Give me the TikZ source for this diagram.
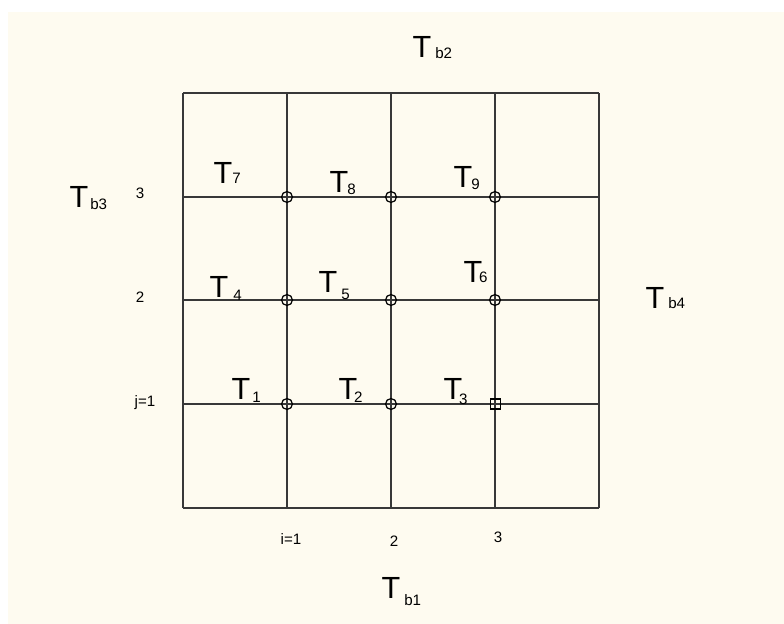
\documentclass[tikz,border=0pt]{standalone}
\usepackage{fontspec}
\setmainfont{Liberation Sans}
\usepackage{tikz}
\definecolor{bgcream}{RGB}{254,251,240}
\definecolor{gridgray}{RGB}{56,56,56}
% T with a subscript: kern, raise, subscript
\newcommand{\Tlab}[3]{T\kern#1\raisebox{#2}{\fontsize{4.3}{5}\selectfont #3}}

\begin{document}
\begin{tikzpicture}[x=0.01cm,y=-0.01cm,
  tlab/.style={anchor=base west,inner sep=0pt,font=\fontsize{8.7}{10}\selectfont},
  idx/.style={inner sep=0pt,font=\fontsize{4.3}{5}\selectfont},
  gridline/.style={gridgray,line width=0.6pt},
  nodemark/.style={black,line width=0.35pt}]
  \useasboundingbox (0,0) rectangle (784,624);
  \fill[white] (0,0) rectangle (784,624);
  \fill[bgcream] (8,12) rectangle (784,624);
  % grid
  \foreach \x in {183,287,391,495,599} {
    \draw[gridline] (\x,93) -- (\x,508);
  }
  \foreach \y in {93,197,300,404,508} {
    \draw[gridline] (183,\y) -- (599,\y);
  }
  % nodes of the mesh
  \foreach \x/\y in {287/197,391/197,495/197,287/300,391/300,495/300,287/404,391/404} {
    \draw[nodemark] (\x,\y) circle[radius=1.55pt];
  }
  \draw[nodemark] (490.5,399) rectangle (500.5,409);
  % temperatures
  \node[tlab] (T7) at (213,183) {\Tlab{0pt}{0pt}{7}};
  \node[tlab] (T8) at (329,192) {\Tlab{-0.3pt}{-0.6pt}{8}};
  \node[tlab] (T9) at (453,187) {\Tlab{-0.3pt}{-0.85pt}{9}};
  \node[tlab] (T4) at (209,297) {\Tlab{1.4pt}{-1.1pt}{4}};
  \node[tlab] (T5) at (318,292) {\Tlab{1.1pt}{-2pt}{5}};
  \node[tlab] (T6) at (463,282) {\Tlab{-0.9pt}{0pt}{6}};
  \node[tlab] (T1) at (231,399) {\Tlab{0.55pt}{-1.1pt}{1}};
  \node[tlab] (T2) at (338,399) {\Tlab{-0.9pt}{-1.1pt}{2}};
  \node[tlab] (T3) at (443,399) {\Tlab{-0.9pt}{-1.7pt}{3}};
  % boundaries
  \node[tlab] (Tb2) at (412,57) {\Tlab{1.1pt}{-0.3pt}{b2}};
  \node[tlab] (Tb3) at (69,207) {\Tlab{0.55pt}{-0.85pt}{b3}};
  \node[tlab] (Tb4) at (645,308) {\Tlab{1.1pt}{0pt}{b4}};
  \node[tlab] (Tb1) at (381,598) {\Tlab{1.1pt}{-2pt}{b1}};
  % indices
  \node[idx] (j3) at (140,193) {3};
  \node[idx] (j2) at (140,297) {2};
  \node[idx] (j1) at (145,403) {j=1};
  \node[idx] (i1) at (291,539) {i=1};
  \node[idx] (i2) at (394,541) {2};
  \node[idx] (i3) at (498,537) {3};
\end{tikzpicture}
\end{document}
